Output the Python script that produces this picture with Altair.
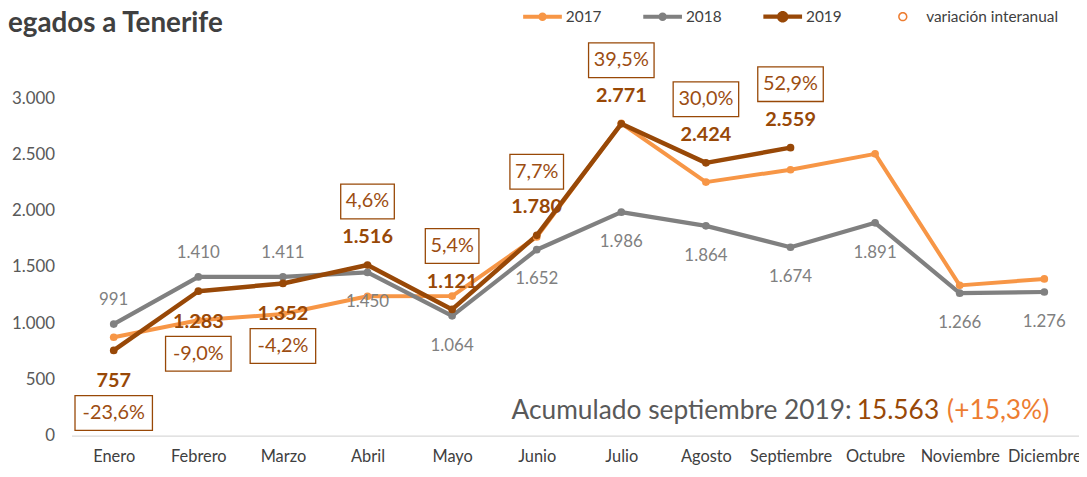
import altair as alt
import pandas as pd

months = ["Enero", "Febrero", "Marzo", "Abril", "Mayo", "Junio", "Julio",
          "Agosto", "Septiembre", "Octubre", "Noviembre", "Diciembre"]
v2017 = [874, 1025, 1080, 1238, 1240, 1765, 2775, 2253, 2363, 2504, 1335, 1392]
v2018 = [991, 1410, 1411, 1450, 1064, 1652, 1986, 1864, 1674, 1891, 1266, 1276]
v2019 = [757, 1283, 1352, 1516, 1121, 1780, 2771, 2424, 2559]
var_labels = ["-23,6%", "-9,0%", "-4,2%", "4,6%", "5,4%", "7,7%", "39,5%", "30,0%", "52,9%"]
y_ticks = [0, 500, 1000, 1500, 2000, 2500, 3000]
series = ["2017", "2018", "2019"]
legend_items = series + ["variación interanual"]
colors = ["#F79646", "#808080", "#984807", "#ED7D31"]
title_text = "egados  a Tenerife"
acc_parts = ["Acumulado septiembre 2019:", "15.563", "(+15,3%)"]

FONT = "Lato"
BROWN = "#984807"

rows = []
for s, vals in zip(series, [v2017, v2018, v2019]):
    for i, v in enumerate(vals):
        rows.append({"idx": i, "mes": months[i], "serie": s, "value": v})
lines_df = pd.DataFrame(rows)

mdf = pd.DataFrame({
    "idx": list(range(12)),
    "mes": months,
    "v2018": v2018,
    "v2019": v2019 + [None] * (12 - len(v2019)),
    "var": var_labels + [None] * (12 - len(var_labels)),
})
legend_df = pd.DataFrame({"serie": legend_items, "idx": [None] * 4, "value": [None] * 4})

label_expr = "[" + ",".join("'%s'" % m for m in months) + "][datum.value]"
xscale = alt.Scale(domain=[-0.4987, 11.41], nice=False, zero=False)
xaxis = alt.Axis(values=list(range(12)), labelExpr=label_expr, title=None,
                 ticks=False, grid=False, domainColor="#D9D9D9", domainWidth=1.3,
                 labelFont=FONT, labelFontSize=16.5, labelColor="#404040",
                 labelPadding=13, labelOverlap=False, labelFlush=False)
yscale = alt.Scale(domain=[0, 3000], nice=False)
yaxis = alt.Axis(values=y_ticks, format=",d", labelExpr="replace(datum.label, ',', '.')",
                 title=None, domain=False, ticks=False, grid=False,
                 labelFont=FONT, labelFontSize=17, labelColor="#595959", labelPadding=17)


def X():
    return alt.X("idx:Q", scale=xscale, axis=xaxis)


def Y(f):
    return alt.Y(f + ":Q", scale=yscale, axis=yaxis)


k = 19.5
def lp(h, r):
    h = h / k
    r = r / k
    return ("M-1,%.3f L1,%.3f L1,%.3f L-1,%.3f Z M%.3f,0 A%.3f,%.3f 0 1,1 %.3f,0 A%.3f,%.3f 0 1,1 %.3f,0 Z"
            % (-h, -h, h, h, r, r, r, -r, r, r, r))

ro, ri = 4.7 / k, 3.2 / k
ring = ("M%.3f,0 A%.3f,%.3f 0 1,1 %.3f,0 A%.3f,%.3f 0 1,1 %.3f,0 Z "
        "M%.3f,0 A%.3f,%.3f 0 1,0 %.3f,0 A%.3f,%.3f 0 1,0 %.3f,0 Z"
        % (ro, ro, ro, -ro, ro, ro, ro, ri, ri, ri, -ri, ri, ri, ri))
p_small = lp(2.0, 4.3)
p_big = lp(2.2, 5.8)

cscale = alt.Scale(domain=legend_items, range=colors)
legend = alt.Legend(
    orient="none", legendX=455, legendY=-101.5, direction="horizontal", title=None,
    symbolSize=1521, symbolStrokeWidth=0, symbolOpacity=1, labelOffset=4,
    columnPadding=42, padding=0, labelFont=FONT, labelFontSize=15.5, labelColor="#404040",
)

legend_layer = alt.Chart(legend_df).mark_point(filled=True, opacity=1).encode(
    x=X(), y=Y("value"),
    color=alt.Color("serie:N", scale=cscale, legend=legend),
    shape=alt.Shape("serie:N", scale=alt.Scale(domain=legend_items, range=[p_small, p_small, p_big, ring]),
                    legend=legend),
)

lines = alt.Chart(lines_df).mark_line(strokeJoin="round", strokeCap="round").encode(
    x=X(), y=Y("value"), color=alt.Color("serie:N", scale=cscale, legend=None),
    strokeWidth=alt.StrokeWidth("serie:N", scale=alt.Scale(domain=series, range=[4, 4.5, 4]), legend=None),
)
points = alt.Chart(lines_df).mark_point(filled=True, opacity=1).encode(
    x=X(), y=Y("value"), color=alt.Color("serie:N", scale=cscale, legend=None),
    size=alt.Size("serie:N", scale=alt.Scale(domain=series, range=[60, 60, 125]), legend=None),
)

neg = "isValid(datum.var) && substring(datum.var, 0, 1) === '-'"
base = alt.Chart(mdf).transform_calculate(
    t18="replace(format(datum.v2018, ',d'), ',', '.')",
    t19="isValid(datum.v2019) ? replace(format(datum.v2019, ',d'), ',', '.') : ''",
    hw="isValid(datum.var) ? length(datum.var) * 6 + 3 : 0",
).transform_calculate(
    box="'M' + (-datum.hw) + ',-17.5H' + datum.hw + 'V17.5H' + (-datum.hw) + 'Z'"
)

lab18_up = base.transform_filter(neg).mark_text(
    dy=-24, font=FONT, fontSize=17, color="#808080", baseline="middle").encode(
    x=X(), y=Y("v2018"), text="t18:N")
lab18_dn = base.transform_filter("!(" + neg + ")").mark_text(
    dy=30, font=FONT, fontSize=17, color="#808080", baseline="middle").encode(
    x=X(), y=Y("v2018"), text="t18:N")

valid19 = base.transform_filter("isValid(datum.v2019)")
lab19_dn = valid19.transform_filter(neg).mark_text(
    dy=31, font=FONT, fontSize=20, fontWeight="bold", color=BROWN, baseline="middle").encode(
    x=X(), y=Y("v2019"), text="t19:N")
lab19_up = valid19.transform_filter("!(" + neg + ")").mark_text(
    dy=-28, font=FONT, fontSize=20, fontWeight="bold", color=BROWN, baseline="middle").encode(
    x=X(), y=Y("v2019"), text="t19:N")

boxes_dn = valid19.transform_filter(neg).mark_point(
    size=4, filled=False, opacity=1, color=BROWN, strokeWidth=1.3, yOffset=63).encode(
    x=X(), y=Y("v2019"), shape=alt.Shape("box:N", scale=None, legend=None))
boxes_up = valid19.transform_filter("!(" + neg + ")").mark_point(
    size=4, filled=False, opacity=1, color=BROWN, strokeWidth=1.3, yOffset=-64).encode(
    x=X(), y=Y("v2019"), shape=alt.Shape("box:N", scale=None, legend=None))
vt_dn = valid19.transform_filter(neg).mark_text(
    dy=63, font=FONT, fontSize=20, color="#9C4D12", baseline="middle").encode(
    x=X(), y=Y("v2019"), text="var:N")
vt_up = valid19.transform_filter("!(" + neg + ")").mark_text(
    dy=-64, font=FONT, fontSize=20, color="#9C4D12", baseline="middle").encode(
    x=X(), y=Y("v2019"), text="var:N")

acc1 = alt.Chart(pd.DataFrame({"t": [acc_parts[0]]})).mark_text(
    font=FONT, fontSize=26.5, color="#595959", align="right", baseline="middle").encode(
    text="t:N", x=alt.value(786), y=alt.value(315))
acc2 = alt.Chart(pd.DataFrame({"t": [acc_parts[1]]})).mark_text(
    font=FONT, fontSize=26.5, color=BROWN, align="left", baseline="middle").encode(
    text="t:N", x=alt.value(791), y=alt.value(315))
acc3 = alt.Chart(pd.DataFrame({"t": [acc_parts[2]]})).mark_text(
    font=FONT, fontSize=26.5, color="#ED7D31", align="right", baseline="middle").encode(
    text="t:N", x=alt.value(985), y=alt.value(315))
title = alt.Chart(pd.DataFrame({"t": [title_text]})).mark_text(
    font=FONT, fontSize=28, fontWeight="bold", color="#404040", align="left", baseline="alphabetic").encode(
    text="t:N", x=alt.value(-64), y=alt.value(-67))

chart = alt.layer(
    legend_layer, lines, points, lab18_up, lab18_dn, lab19_dn, lab19_up,
    boxes_dn, boxes_up, vt_dn, vt_up, acc1, acc2, acc3, title,
).properties(
    width=1015, height=340,
    autosize=alt.AutoSizeParams(type="none"),
    padding={"left": 64, "top": 89, "right": 0, "bottom": 36},
    background="white",
).configure_view(stroke=None)

chart.save("out.html", embed_options={"renderer": "svg", "actions": False})
